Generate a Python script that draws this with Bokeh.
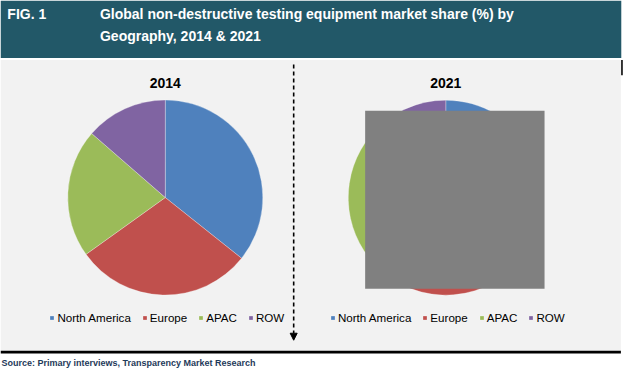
import numpy as np
from bokeh.plotting import figure
from bokeh.models import (BoxAnnotation, Label, Legend, LegendItem, Arrow,
                          NormalHead, ColumnDataSource, Range1d)
from bokeh.embed import file_html
from bokeh.resources import INLINE

# ---------------- data ----------------
categories = ["North America", "Europe", "APAC", "ROW"]
share_2014 = [35.7, 29.4, 21.3, 13.6]
share_2021 = [34.5, 28.5, 23.0, 14.0]
years = ["2014", "2021"]
colors = ["#4F81BD", "#C0504D", "#9BBB59", "#8064A2"]

title_line1 = "Global non-destructive testing equipment market share (%) by"
title_line2 = "Geography, 2014 & 2021"
fig_label = "FIG. 1"
source_text = "Source:  Primary interviews, Transparency Market Research"

# ---------------- layout (reference pixel space 640x384, y down) ----------------
W, H = 624, 368
REF_W, REF_H = 640, 384
TEAL = "#225868"
FONT = "Liberation Sans"


def Y(v):
    return REF_H - v


p = figure(width=W, height=H, x_range=Range1d(0, REF_W), y_range=Range1d(0, REF_H),
           output_backend="svg", toolbar_location=None, min_border=0,
           x_axis_type=None, y_axis_type=None)
p.outline_line_color = None
p.background_fill_color = "white"
p.border_fill_color = "white"

# header band, chart background, bottom rule, right tick
p.add_layout(BoxAnnotation(left=0, right=636.7, bottom=Y(60), top=Y(0),
                           fill_color=TEAL, fill_alpha=1, line_color=None, level="underlay"))
p.add_layout(BoxAnnotation(left=0, right=636.3, bottom=Y(365.8), top=Y(62),
                           fill_color="#F2F2F2", fill_alpha=1, line_color=None, level="underlay"))
p.add_layout(BoxAnnotation(left=0, right=636.3, bottom=Y(368.4), top=Y(365.6),
                           fill_color="black", fill_alpha=1, line_color=None))
p.add_layout(BoxAnnotation(left=636.6, right=638.2, bottom=Y(78), top=Y(62),
                           fill_color="black", fill_alpha=1, line_color=None))

# header texts
p.add_layout(Label(x=7, y=Y(14), text=fig_label, text_color="white", text_font=FONT,
                   text_font_style="bold", text_font_size="14px", text_baseline="alphabetic"))
p.add_layout(Label(x=102, y=Y(14), text=title_line1, text_color="white", text_font=FONT,
                   text_font_style="bold", text_font_size="14px", text_baseline="alphabetic"))
p.add_layout(Label(x=102, y=Y(37.3), text=title_line2, text_color="white", text_font=FONT,
                   text_font_style="bold", text_font_size="14px", text_baseline="alphabetic"))

# pies
centers = [(169.0, 205.6), (456.7, 205.7)]
legend_x = [49.4, 329.9]
for year, vals, (cx, cy), lx in zip(years, [share_2014, share_2021], centers, legend_x):
    frac = np.array(vals, dtype=float) / float(sum(vals))
    cum = np.concatenate([[0.0], np.cumsum(frac)])
    start = np.pi / 2 - 2 * np.pi * cum[:-1]
    end = np.pi / 2 - 2 * np.pi * cum[1:]
    src = ColumnDataSource(dict(cat=categories, share=vals, start=start, end=end, color=colors))
    r = p.wedge(x=cx, y=Y(cy), radius=100, start_angle="start", end_angle="end",
                direction="clock", fill_color="color", line_color="white",
                line_width=0.4, line_alpha=0.7, source=src)
    p.add_layout(Label(x=cx, y=Y(85.7), text=year, text_align="center", text_font=FONT,
                       text_font_style="bold", text_font_size="14px", text_color="black",
                       text_baseline="alphabetic"))
    leg = Legend(items=[LegendItem(label=c, renderers=[r], index=i) for i, c in enumerate(categories)],
                 orientation="horizontal", location=(lx, 43.8), glyph_width=5, glyph_height=5,
                 label_standoff=3, spacing=11, padding=0, margin=0, label_height=14,
                 border_line_color=None, background_fill_alpha=0,
                 label_text_font=FONT, label_text_font_size="11.6px", label_text_color="black")
    p.add_layout(leg, "center")

# grey mask over the 2021 pie
p.add_layout(BoxAnnotation(left=374, right=558, bottom=Y(300.7), top=Y(115),
                           fill_color="#808080", fill_alpha=1, line_color=None))

# dashed arrow divider
p.add_layout(Arrow(end=NormalHead(size=7, fill_color="black", line_color="black", line_width=1),
                   x_start=300.7, y_start=Y(66.7), x_end=300.7, y_end=Y(354.5),
                   line_color="black", line_width=1.6, line_dash="4 3"))

# source
p.add_layout(Label(x=1, y=Y(378.5), text=source_text, text_color="#1F3A5A", text_font=FONT,
                   text_font_style="bold", text_font_size="9px", text_baseline="alphabetic"))

open("out.html", "w").write(file_html(p, INLINE))
